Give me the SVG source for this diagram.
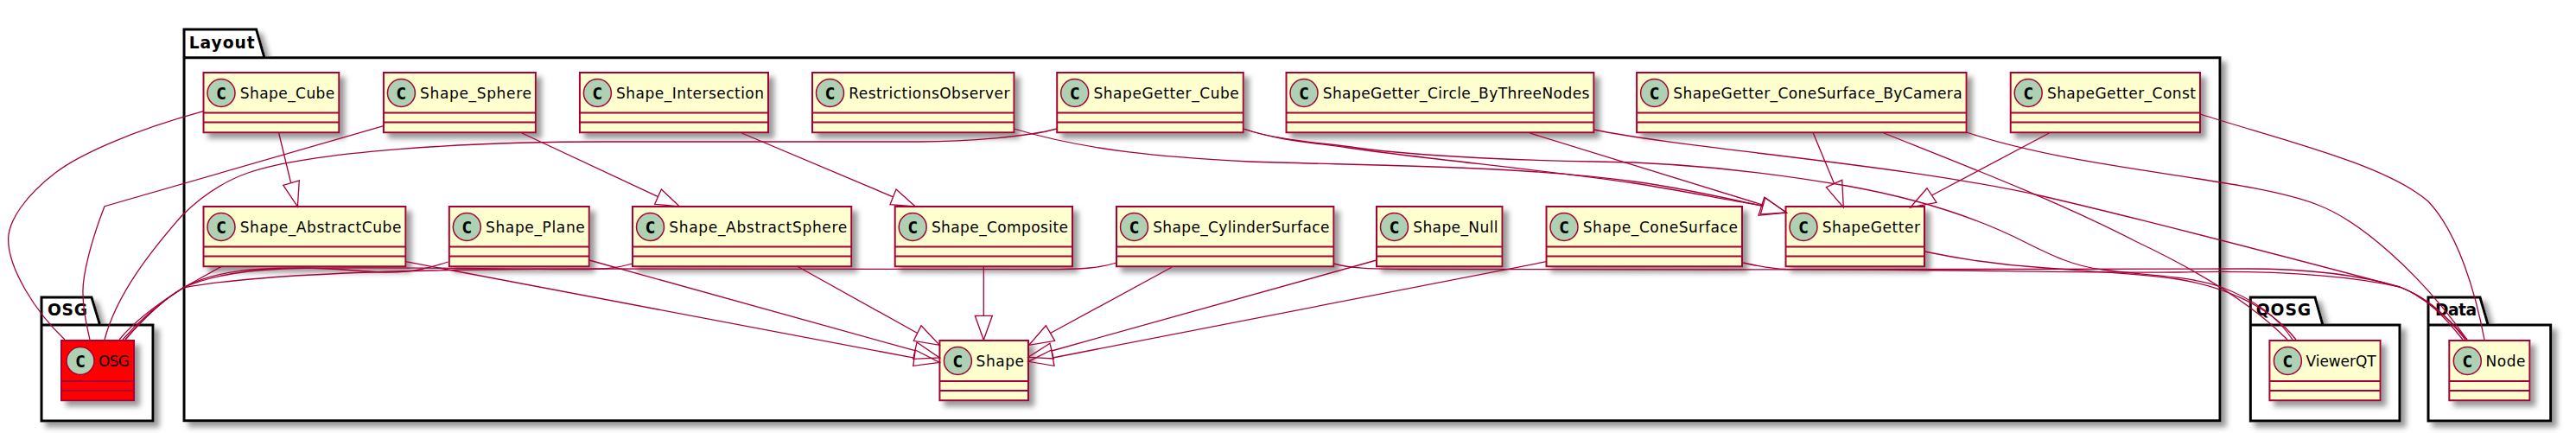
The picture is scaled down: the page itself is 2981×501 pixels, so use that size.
<svg xmlns="http://www.w3.org/2000/svg" width="2981" height="501" viewBox="0 0 2981 501">
<style>
.pkg{fill:#fff;stroke:#000;stroke-width:3;filter:url(#sh)}
.pt{font:bold 18.7px "DejaVu Sans",sans-serif;fill:#000}
.box{fill:#FEFECE;stroke:#A80036;stroke-width:2;filter:url(#sh)}
.red{fill:#FF0000}
.div{stroke:#A80036;stroke-width:2}
.ci{fill:#ADD1B2;stroke:#A80036;stroke-width:1.5}
.cc{font:bold 20px "DejaVu Sans Mono",monospace;fill:#000;text-anchor:middle}
.nm{font:17px "DejaVu Sans",sans-serif;fill:#000}
.e{fill:none;stroke:#A80036;stroke-width:1.3}
</style>
<defs><filter id="sh" x="-5%" y="-5%" width="125%" height="135%"><feDropShadow dx="6" dy="6" stdDeviation="3" flood-color="#999"/></filter></defs>
<g id="pkg-Layout"><path class="pkg" d="M213,66.7V486.7H2569V66.7H306L296.6,34H213V66.7H306"/><text class="pt" x="218.7" y="56" textLength="76">Layout</text></g>
<g id="pkg-OSG"><path class="pkg" d="M48,376V487H177V376H115.7L106,344H48V376H115.7"/><text class="pt" x="55" y="365" textLength="46">OSG</text></g>
<g id="pkg-QOSG"><path class="pkg" d="M2604.3,376V487H2777V376H2688L2679,344H2604.3V376H2688"/><text class="pt" x="2610.7" y="365" textLength="63.5">QOSG</text></g>
<g id="pkg-Data"><path class="pkg" d="M2810,376V487H2951.7V376H2879.3L2870,344H2810V376H2879.3"/><text class="pt" x="2818" y="365" textLength="48">Data</text></g>

<g id="Shape_Cube" transform="translate(235.5,84)"><rect class="box" width="156.8" height="69.3"/><path class="div" d="M0,46.5H156.8M0,57.5H156.8"/><circle class="ci" cx="20.5" cy="23.5" r="16"/><text class="cc" x="20.5" y="30.5">C</text><text class="nm" x="42.2" y="30" textLength="109.6">Shape_Cube</text></g>
<g id="Shape_Sphere" transform="translate(443.9,84)"><rect class="box" width="176" height="69.3"/><path class="div" d="M0,46.5H176M0,57.5H176"/><circle class="ci" cx="20.5" cy="23.5" r="16"/><text class="cc" x="20.5" y="30.5">C</text><text class="nm" x="42.2" y="30" textLength="128.8">Shape_Sphere</text></g>
<g id="Shape_Intersection" transform="translate(670.9,84)"><rect class="box" width="218.1" height="69.3"/><path class="div" d="M0,46.5H218.1M0,57.5H218.1"/><circle class="ci" cx="20.5" cy="23.5" r="16"/><text class="cc" x="20.5" y="30.5">C</text><text class="nm" x="42.2" y="30" textLength="170.9">Shape_Intersection</text></g>
<g id="RestrictionsObserver" transform="translate(940,84)"><rect class="box" width="233.5" height="69.3"/><path class="div" d="M0,46.5H233.5M0,57.5H233.5"/><circle class="ci" cx="20.5" cy="23.5" r="16"/><text class="cc" x="20.5" y="30.5">C</text><text class="nm" x="42.2" y="30" textLength="186.3">RestrictionsObserver</text></g>
<g id="ShapeGetter_Cube" transform="translate(1223.2,84)"><rect class="box" width="215.6" height="69.3"/><path class="div" d="M0,46.5H215.6M0,57.5H215.6"/><circle class="ci" cx="20.5" cy="23.5" r="16"/><text class="cc" x="20.5" y="30.5">C</text><text class="nm" x="42.2" y="30" textLength="168.4">ShapeGetter_Cube</text></g>
<g id="ShapeGetter_Circle_ByThreeNodes" transform="translate(1488.5,84)"><rect class="box" width="355.9" height="69.3"/><path class="div" d="M0,46.5H355.9M0,57.5H355.9"/><circle class="ci" cx="20.5" cy="23.5" r="16"/><text class="cc" x="20.5" y="30.5">C</text><text class="nm" x="42.2" y="30" textLength="308.7">ShapeGetter_Circle_ByThreeNodes</text></g>
<g id="ShapeGetter_ConeSurface_ByCamera" transform="translate(1894.1,84)"><rect class="box" width="381.5" height="69.3"/><path class="div" d="M0,46.5H381.5M0,57.5H381.5"/><circle class="ci" cx="20.5" cy="23.5" r="16"/><text class="cc" x="20.5" y="30.5">C</text><text class="nm" x="42.2" y="30" textLength="334.3">ShapeGetter_ConeSurface_ByCamera</text></g>
<g id="ShapeGetter_Const" transform="translate(2326.7,84)"><rect class="box" width="219.3" height="69.3"/><path class="div" d="M0,46.5H219.3M0,57.5H219.3"/><circle class="ci" cx="20.5" cy="23.5" r="16"/><text class="cc" x="20.5" y="30.5">C</text><text class="nm" x="42.2" y="30" textLength="172.1">ShapeGetter_Const</text></g>

<g id="Shape_AbstractCube" transform="translate(235.5,239)"><rect class="box" width="233.9" height="69.3"/><path class="div" d="M0,46.5H233.9M0,57.5H233.9"/><circle class="ci" cx="20.5" cy="23.5" r="16"/><text class="cc" x="20.5" y="30.5">C</text><text class="nm" x="42.2" y="30" textLength="186.7">Shape_AbstractCube</text></g>
<g id="Shape_Plane" transform="translate(519.8,239)"><rect class="box" width="162" height="69.3"/><path class="div" d="M0,46.5H162M0,57.5H162"/><circle class="ci" cx="20.5" cy="23.5" r="16"/><text class="cc" x="20.5" y="30.5">C</text><text class="nm" x="42.2" y="30" textLength="114.8">Shape_Plane</text></g>
<g id="Shape_AbstractSphere" transform="translate(732,239)"><rect class="box" width="253.3" height="69.3"/><path class="div" d="M0,46.5H253.3M0,57.5H253.3"/><circle class="ci" cx="20.5" cy="23.5" r="16"/><text class="cc" x="20.5" y="30.5">C</text><text class="nm" x="42.2" y="30" textLength="206.1">Shape_AbstractSphere</text></g>
<g id="Shape_Composite" transform="translate(1035.7,239)"><rect class="box" width="205.3" height="69.3"/><path class="div" d="M0,46.5H205.3M0,57.5H205.3"/><circle class="ci" cx="20.5" cy="23.5" r="16"/><text class="cc" x="20.5" y="30.5">C</text><text class="nm" x="42.2" y="30" textLength="158.1">Shape_Composite</text></g>
<g id="Shape_CylinderSurface" transform="translate(1292,239)"><rect class="box" width="251.4" height="69.3"/><path class="div" d="M0,46.5H251.4M0,57.5H251.4"/><circle class="ci" cx="20.5" cy="23.5" r="16"/><text class="cc" x="20.5" y="30.5">C</text><text class="nm" x="42.2" y="30" textLength="204.2">Shape_CylinderSurface</text></g>
<g id="Shape_Null" transform="translate(1593,239)"><rect class="box" width="145.5" height="69.3"/><path class="div" d="M0,46.5H145.5M0,57.5H145.5"/><circle class="ci" cx="20.5" cy="23.5" r="16"/><text class="cc" x="20.5" y="30.5">C</text><text class="nm" x="42.2" y="30" textLength="98.3">Shape_Null</text></g>
<g id="Shape_ConeSurface" transform="translate(1789.5,239)"><rect class="box" width="226.5" height="69.3"/><path class="div" d="M0,46.5H226.5M0,57.5H226.5"/><circle class="ci" cx="20.5" cy="23.5" r="16"/><text class="cc" x="20.5" y="30.5">C</text><text class="nm" x="42.2" y="30" textLength="179.3">Shape_ConeSurface</text></g>
<g id="ShapeGetter" transform="translate(2066.5,239)"><rect class="box" width="160.5" height="69.3"/><path class="div" d="M0,46.5H160.5M0,57.5H160.5"/><circle class="ci" cx="20.5" cy="23.5" r="16"/><text class="cc" x="20.5" y="30.5">C</text><text class="nm" x="42.2" y="30" textLength="113.3">ShapeGetter</text></g>

<g id="Shape" transform="translate(1087.4,394)"><rect class="box" width="102.6" height="69.3"/><path class="div" d="M0,47H102.6M0,58H102.6"/><circle class="ci" cx="21" cy="23.5" r="16"/><text class="cc" x="21" y="30.5">C</text><text class="nm" x="42.2" y="30" textLength="55.4">Shape</text></g>
<g id="OSG" transform="translate(71,394)"><rect class="box red" width="84" height="69.3"/><path class="div" d="M0,47H84M0,58H84"/><circle class="ci" cx="22" cy="23.5" r="16"/><text class="cc" x="22" y="30.5">C</text><text class="nm" x="43" y="30" textLength="36">OSG</text></g>
<g id="ViewerQT" transform="translate(2626.4,394)"><rect class="box" width="128.2" height="69.3"/><path class="div" d="M0,47H128.2M0,58H128.2"/><circle class="ci" cx="21" cy="23.5" r="16"/><text class="cc" x="21" y="30.5">C</text><text class="nm" x="42.2" y="30" textLength="81">ViewerQT</text></g>
<g id="Node" transform="translate(2834.3,394)"><rect class="box" width="93.1" height="69.3"/><path class="div" d="M0,47H93.1M0,58H93.1"/><circle class="ci" cx="21" cy="23.5" r="16"/><text class="cc" x="21" y="30.5">C</text><text class="nm" x="42.2" y="30" textLength="46">Node</text></g>

<g id="connectors">
<path class="e" d="M322.7,154L336.7,212M327.8,214.3L344.4,239L346.3,209Z"/>
<path class="e" d="M604,154L761.5,227.6M765.3,219L786.4,239L757.7,236.3Z"/>
<path class="e" d="M858.4,154L1033.5,227.8M1037,219L1059.3,239L1030,236.7Z"/>
<path class="e" d="M1138.3,309V365.3M1128.3,365.3H1148.3L1138.3,393.3Z"/>
<path class="e" d="M922.8,308.3L1061.7,385.5M1066,376.7L1087.3,399.3L1057.3,394.3Z"/>
<path class="e" d="M681.8,301L1058.8,405.7M1061,396L1087.3,414L1056.7,415.3Z"/>
<path class="e" d="M469.4,302.7L1058,414.2M1059.3,405L1087.3,419.3L1056.7,423.3Z"/>
<path class="e" d="M1355.9,309.3L1215.5,385.5M1210.3,376.7L1190.7,399.3L1220.7,394.3Z"/>
<path class="e" d="M1593,301L1217,406M1215,397.3L1190,413.3L1219.3,415Z"/>
<path class="e" d="M1789.5,302.7L1218.3,414M1216.7,405L1190,418.3L1220,423.3Z"/>
<path class="e" d="M2098.3,154L2122.7,212.7M2113.3,216.7L2133.3,240L2131.7,208.3Z"/>
<path class="e" d="M2371.3,154L2235.5,226M2230,217.7L2210.7,240L2241,234.3Z"/>
<path class="e" d="M1770.4,154L2040.7,237.3M2041.7,228.3L2067.3,246L2035,249.3Z"/>
<path class="e" d="M1173.5,149C1260,175 1350,182 1446,187C1600,192 1760,192 1891,210C1950,218 2000,230 2040,238.4M2042.7,228.8L2067.3,246L2037.3,248Z"/>
<path class="e" d="M1439,149C1480,163 1520,165 1560,171C1650,184 1800,198 1891,212C1950,221 2000,232 2040,238"/>
<path class="e" d="M1439,149C1480,163 1530,165 1570,171C1650,182 1780,186 1846,187C1950,188 2050,200 2137,215C2210,228 2280,248 2343,280C2375,296 2400,308 2433,312C2470,318 2530,318 2570,332C2605,345 2635,365 2653,393"/>
<path class="e" d="M2180,154C2270,190 2380,232 2473,280C2530,307 2600,345 2647,393"/>
<path class="e" d="M2227,291C2270,300 2320,307 2367,310C2420,314 2480,317 2520,323C2570,331 2625,352 2657,393"/>
<path class="e" d="M2275.6,153C2410,198 2600,205 2682,237C2730,255 2800,315 2855,393"/>
<path class="e" d="M2546,132C2640,162 2760,190 2810,233C2845,270 2865,340 2875,393"/>
<path class="e" d="M1844.4,150C1950,172 2200,190 2364,227C2450,247 2600,285 2777,332C2810,345 2835,370 2855,393"/>
<path class="e" d="M1543.4,305C1565,311 1590,311 1620,311.5L2000,312L2600,311C2650,311 2720,315 2777,332C2810,345 2830,368 2850,393"/>
<path class="e" d="M2017,304C2035,308 2050,311 2067,311.5L2167,312C2300,313 2450,316 2520,315C2600,313 2700,315 2777,332C2812,345 2835,370 2853,393"/>
<path class="e" d="M235.5,128.7C150,152 90,180 64,200C30,226 9.6,255 9.6,277C9.6,310 40,360 75,393"/>
<path class="e" d="M444,145.7L121,238.7C105,280 95,320 96,340C96,360 100,375 104,393"/>
<path class="e" d="M1223,149C1190,158 1120,164 1064,164L701,164C540,164 360,175 287,200C250,213 225,235 210,250C175,290 135,340 121,393"/>
<path class="e" d="M257,308L212,333C185,350 155,372 138,393"/>
<path class="e" d="M518.5,303C500,309 480,315 450,315C420,315 390,310 350,310C300,310 250,312 212,333C185,350 160,372 142,393"/>
<path class="e" d="M732,305C712,311 695,311.7 670,311.7C560,311 400,308 327,311C280,313 240,320 212,333C187,348 162,372 145,393"/>
<path class="e" d="M1292,304C1270,311 1250,311 1220,311.7L700,311C500,311 300,316 212,333C190,346 165,370 145,393"/>
</g>
</svg>
